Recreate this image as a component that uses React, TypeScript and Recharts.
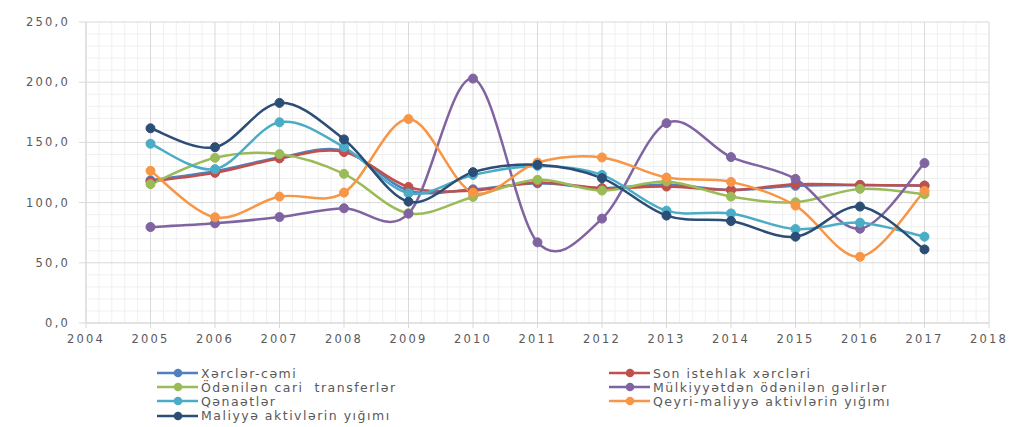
import React from "react";
import { LineChart, Line, XAxis, YAxis, CartesianGrid, Legend } from "recharts";

const years = [2005, 2006, 2007, 2008, 2009, 2010, 2011, 2012, 2013, 2014, 2015, 2016, 2017];

const xerclerCemi = [118.5, 126.0, 137.5, 143.0, 110.0, 111.0, 116.0, 112.0, 115.0, 110.5, 114.0, 114.7, 114.0];
const sonIstehlak = [117.5, 124.7, 136.7, 142.0, 113.0, 110.0, 116.7, 112.0, 113.3, 110.5, 115.3, 114.7, 114.2];
const cariTransfer = [115.3, 137.2, 140.3, 123.9, 91.1, 104.7, 118.9, 110.0, 117.5, 105.0, 100.3, 111.4, 107.0];
const mulkiyyet = [79.7, 82.8, 88.0, 95.3, 90.8, 203.0, 67.0, 86.7, 166.0, 137.8, 119.7, 78.3, 132.8];
const qenaetler = [148.9, 127.8, 166.7, 146.0, 107.8, 123.0, 130.5, 123.0, 93.3, 91.0, 78.0, 83.3, 71.7];
const qeyriMaliyye = [126.4, 87.8, 105.0, 108.3, 169.4, 108.3, 133.3, 137.5, 120.8, 117.2, 97.5, 55.0, 109.7];
const maliyye = [161.7, 146.0, 182.8, 152.5, 100.8, 125.3, 131.4, 120.3, 89.2, 84.7, 71.7, 96.7, 61.1];

const xTicks = [2004, 2005, 2006, 2007, 2008, 2009, 2010, 2011, 2012, 2013, 2014, 2015, 2016, 2017, 2018];
const yTicks = [0, 50, 100, 150, 200, 250];

const series = [
  { key: "xc", name: "Xərclər-cəmi", color: "#4F81BD", values: xerclerCemi },
  { key: "si", name: "Son istehlak xərcləri", color: "#C0504D", values: sonIstehlak },
  { key: "ct", name: "Ödənilən cari  transferlər", color: "#9BBB59", values: cariTransfer },
  { key: "mu", name: "Mülkiyyətdən ödənilən gəlirlər", color: "#8064A2", values: mulkiyyet },
  { key: "qn", name: "Qənaətlər", color: "#4BACC6", values: qenaetler },
  { key: "qm", name: "Qeyri-maliyyə aktivlərin yığımı", color: "#F79646", values: qeyriMaliyye },
  { key: "ma", name: "Maliyyə aktivlərin yığımı", color: "#2C4D75", values: maliyye },
];

const data = years.map((year, i) => {
  const row: Record<string, number> = { year };
  series.forEach((s) => (row[s.key] = s.values[i]));
  return row;
});

// Excel-style smoothing (uniform Catmull-Rom as bezier)
const excelSmooth = (context: any) => {
  let pts: number[][] = [];
  return {
    areaStart() {},
    areaEnd() {},
    lineStart() {
      pts = [];
    },
    point(x: number, y: number) {
      pts.push([+x, +y]);
    },
    lineEnd() {
      if (!pts.length) return;
      context.moveTo(pts[0][0], pts[0][1]);
      for (let i = 0; i < pts.length - 1; i++) {
        const p0 = pts[i - 1] || pts[i];
        const p1 = pts[i];
        const p2 = pts[i + 1];
        const p3 = pts[i + 2] || pts[i + 1];
        context.bezierCurveTo(
          p1[0] + (p2[0] - p0[0]) / 6,
          p1[1] + (p2[1] - p0[1]) / 6,
          p2[0] - (p3[0] - p1[0]) / 6,
          p2[1] - (p3[1] - p1[1]) / 6,
          p2[0],
          p2[1]
        );
      }
    },
  };
};

const minorX: number[] = [];
for (let i = 0; i <= 70; i++) if (i % 5 !== 0) minorX.push(2004 + i * 0.2);
const minorY: number[] = [];
for (let v = 0; v <= 250; v += 10) if (v % 50 !== 0) minorY.push(v);

const tickStyle = { fill: "#595959", fontSize: 11.5, fontFamily: "DejaVu Sans", letterSpacing: 2.2 };

const LegendBox = () => (
  <div
    style={{
      display: "grid",
      gridTemplateColumns: "452px auto",
      fontFamily: "DejaVu Sans",
      fontSize: 12.5,
      letterSpacing: 1.5,
      color: "#595959",
    }}
  >
    {series.map((s) => (
      <div key={s.key} style={{ display: "flex", alignItems: "center", height: 14.2, whiteSpace: "pre" }}>
        <svg width={44} height={12} style={{ flex: "none" }}>
          <line x1={0} y1={6} x2={41} y2={6} stroke={s.color} strokeWidth={2.5} />
          <circle cx={21} cy={6} r={4.3} fill={s.color} />
        </svg>
        <span>{s.name}</span>
      </div>
    ))}
  </div>
);

export default function App() {
  return (
    <div
      style={{
        position: "relative",
        width: 1019,
        height: 419,
        borderTop: "2px solid #d9d9d9",
        borderLeft: "2px solid #d9d9d9",
        marginLeft: -2,
        marginTop: -2,
        background: "#fff",
      }}
    >
      <LineChart width={1019} height={419} data={data} margin={{ top: 14, right: 38, left: 8, bottom: 74 }}>
        <CartesianGrid
          stroke="#f0f0f0"
          verticalCoordinatesGenerator={({ offset }: any) =>
            minorX.map((v) => offset.left + ((v - 2004) / 14) * offset.width)
          }
          horizontalCoordinatesGenerator={({ offset }: any) =>
            minorY.map((v) => offset.top + offset.height - (v / 250) * offset.height)
          }
        />
        <CartesianGrid stroke="#d9d9d9" />
        <XAxis
          dataKey="year"
          type="number"
          domain={[2004, 2018]}
          ticks={xTicks}
          interval={0}
          height={30}
          tickSize={5}
          tickMargin={7}
          stroke="#d9d9d9"
          tick={tickStyle}
        />
        <YAxis
          domain={[0, 250]}
          ticks={yTicks}
          interval={0}
          width={70}
          tickSize={7}
          tickMargin={9}
          stroke="#d9d9d9"
          tick={tickStyle}
          tickFormatter={(v: number) => v.toFixed(1).replace(".", ",")}
        />
        {series.map((s) => (
          <Line
            key={s.key}
            dataKey={s.key}
            name={s.name}
            type={excelSmooth as any}
            stroke={s.color}
            strokeWidth={2.5}
            dot={{ r: 4.5, fill: s.color, stroke: s.color, strokeWidth: 1 }}
            activeDot={false}
            isAnimationActive={false}
          />
        ))}
        <Legend
          layout="vertical"
          align="center"
          verticalAlign="middle"
          wrapperStyle={{ left: 149, top: 358, width: 820 }}
          content={() => <LegendBox />}
        />
      </LineChart>
    </div>
  );
}
